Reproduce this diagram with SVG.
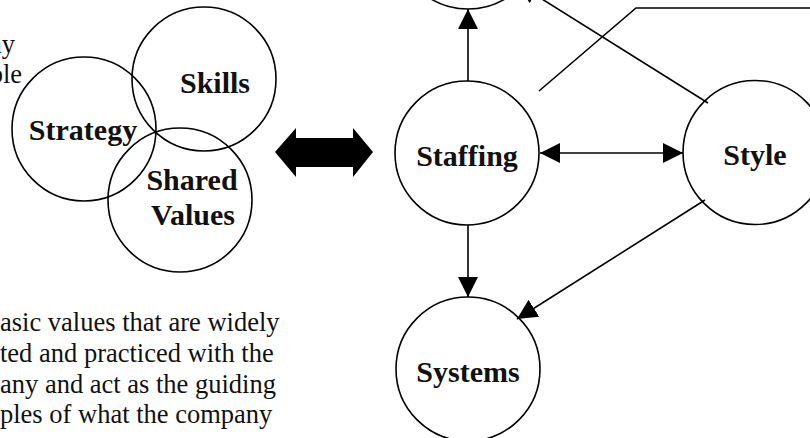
<svg xmlns="http://www.w3.org/2000/svg" width="810" height="438" viewBox="0 0 810 438">
<style>
.c{fill:none;stroke:#000;stroke-width:1.6}
.lbl{font-family:"Liberation Serif","Times New Roman",serif;font-weight:bold;font-size:30px;fill:#111;text-anchor:middle}
.body{font-family:"Liberation Serif","Times New Roman",serif;font-size:26.5px;fill:#111}
.ln{fill:none;stroke:#000;stroke-width:1.6}
</style>
<defs>
<marker id="ah" viewBox="0 0 20 20" refX="20" refY="10" markerWidth="20" markerHeight="20" markerUnits="userSpaceOnUse" orient="auto-start-reverse">
<path d="M0,0 L20,10 L0,20 Z" fill="#000"/>
</marker>
</defs>
<rect width="810" height="438" fill="#fff"/>
<g id="text-left-top">
<text class="body" x="15" y="53" text-anchor="end">ny</text>
<text class="body" x="22" y="83" text-anchor="end">ble</text>
</g>
<g id="venn-skills"><circle class="c" cx="204" cy="79" r="72"/><text class="lbl" x="215" y="93">Skills</text></g>
<g id="venn-strategy"><circle class="c" cx="84" cy="129" r="72"/><text class="lbl" x="83" y="140">Strategy</text></g>
<g id="venn-shared"><circle class="c" cx="180" cy="200" r="72"/><text class="lbl" x="192" y="190">Shared</text><text class="lbl" x="193" y="225">Values</text></g>
<g id="block-arrow"><polygon points="275,152 296,128 296,138 353,138 353,128 373,152 353,177 353,167 296,167 296,177" fill="#000"/></g>
<g id="text-left-bottom" class="body">
<text x="0" y="331">asic values that are widely</text>
<text x="0" y="362">ted and practiced with the</text>
<text x="0" y="393">any and act as the guiding</text>
<text x="0" y="423">ples of what the company</text>
</g>
<g id="node-top"><circle class="c" cx="468" cy="-63" r="72"/></g>
<g id="node-staffing"><circle class="c" cx="467" cy="153" r="72"/><text class="lbl" x="467" y="166">Staffing</text></g>
<g id="node-style"><circle class="c" cx="755" cy="152.5" r="72"/><text class="lbl" x="755" y="165">Style</text></g>
<g id="node-systems"><circle class="c" cx="468" cy="369" r="72"/><text class="lbl" x="468" y="382">Systems</text></g>
<g id="connectors">
<line class="ln" x1="468" y1="81" x2="468" y2="9" marker-end="url(#ah)"/>
<line class="ln" x1="540" y1="153" x2="683" y2="153" marker-start="url(#ah)" marker-end="url(#ah)"/>
<line class="ln" x1="468" y1="225" x2="468" y2="297" marker-end="url(#ah)"/>
<line class="ln" x1="705" y1="200" x2="517" y2="319" marker-end="url(#ah)"/>
<line class="ln" x1="708" y1="103" x2="518" y2="-16" marker-end="url(#ah)"/>
<polyline class="ln" points="539,91 636,8 812,8"/>
</g>
</svg>
